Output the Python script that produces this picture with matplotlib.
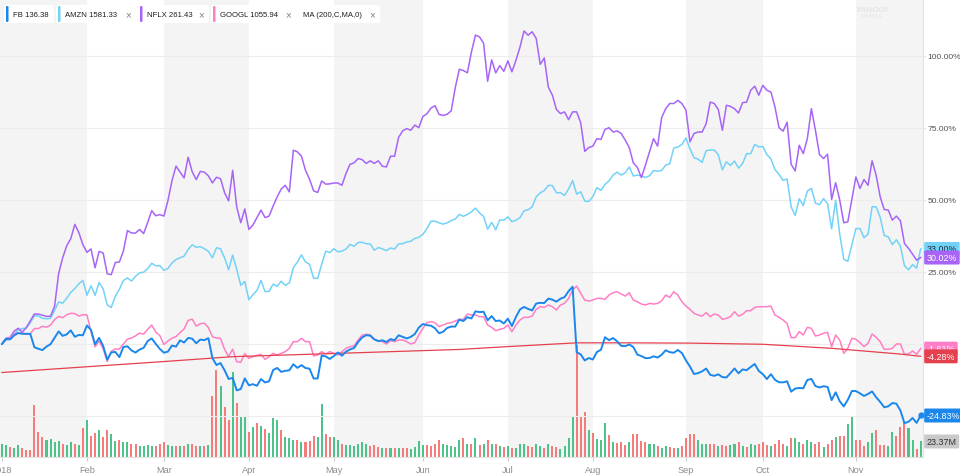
import numpy as np
import matplotlib.pyplot as plt
from matplotlib.patches import FancyBboxPatch
from matplotlib.transforms import blended_transform_factory

plt.rcParams['font.family'] = ['Liberation Sans', 'DejaVu Sans']

# trading days per month, Jan 2 2018 .. Nov 26 2018
month_labels = ["2018", "Feb", "Mar", "Apr", "May", "Jun", "Jul", "Aug", "Sep", "Oct", "Nov"]
month_days = [21, 19, 21, 21, 22, 21, 21, 23, 19, 23, 17]

# % change since Jan 2
fb = [0, 1.79, 1.60, 2.99, 3.78, 3.56, 3.54, 3.50, -1.13, -1.67, -2.11, -0.89, -0.07, 2.18, 4.37, 2.83, 3.34, 4.73, 2.51, 3.14, 3.02,
      6.43, 4.88, -0.09, 2.14, -0.68, -5.42, -2.93, -2.76, -4.56, -1.05, -0.80, -2.24, -2.98, -1.93, -1.34, 1.03, 1.93, 0.02, -1.71,
      -3.02, -2.65, -0.56, -0.90, 1.26, 0.51, 2.10, 1.84, 0.25, 1.53, 1.34, 2.02, -4.88, -7.31, -6.63, -9.11, -12.14, -11.77, -16.10, -15.65, -11.92,
      -14.35, -13.95, -14.51, -12.17, -13.35, -12.95, -9.03, -8.32, -9.67, -9.32, -9.14, -7.03, -8.30, -7.34, -8.35, -8.59, -11.98, -11.98, -4.00, -4.32, -5.19,
      -4.17, -2.95, -4.08, -2.65, -1.90, -1.38, 0.68, 2.27, 3.07, 2.88, 1.60, 0.98, 1.29, 0.69, 1.69, 1.31, 3.02, 2.49, 1.93, 2.45, 3.45, 5.71,
      6.93, 6.54, 6.35, 5.47, 3.73, 4.23, 5.58, 6.05, 6.06, 8.48, 7.95, 9.31, 8.86, 11.34, 11.07, 11.20, 8.23, 9.69, 7.95, 8.16, 7.11,
      8.79, 6.23, 9.39, 12.02, 12.86, 12.19, 11.64, 14.05, 14.28, 14.23, 15.75, 15.40, 14.70, 15.72, 16.26, 18.33, 19.89, -2.84, -3.60, -5.71, -4.87,
      -5.39, -2.78, -2.01, 2.35, 1.32, 2.07, 0.92, -0.64, -0.75, -0.17, -1.04, -3.70, -4.20, -4.92, -4.85, -4.29, -4.70, -3.73, -2.18, -2.84, -3.04, -2.08, -3.14,
      -5.66, -7.85, -10.41, -10.13, -9.50, -8.53, -10.70, -11.06, -10.53, -11.49, -11.64, -10.12, -8.49, -10.19, -8.82, -9.10, -7.98, -6.93, -9.35,
      -10.46, -12.18, -10.47, -12.44, -13.28, -13.32, -12.96, -16.56, -15.47, -15.26, -15.38, -12.48, -12.13, -14.61, -15.09, -14.68, -14.90, -19.50, -16.79, -19.87, -21.68, -19.40, -16.33,
      -16.35, -17.13, -18.05, -17.35, -16.48, -18.49, -20.10, -21.98, -21.64, -20.51, -20.71, -23.09, -27.49, -27.00, -25.69, -27.39, -24.83]

amzn = [0, 1.28, 1.73, 3.38, 4.87, 5.36, 5.49, 7.37, 9.77, 9.74, 8.91, 8.77, 8.88, 11.63, 14.60, 14.17, 15.89, 17.92, 19.23, 20.93, 22.03,
        16.90, 20.26, 16.90, 21.35, 19.16, 13.58, 12.67, 16.59, 18.97, 22.04, 22.94, 21.84, 23.49, 24.72, 24.92, 26.16, 28.00, 27.16, 27.20,
        25.60, 26.18, 28.14, 29.32, 29.94, 30.52, 32.79, 34.43, 33.57, 33.81, 33.08, 32.19, 29.93, 33.43, 33.04, 29.87, 25.78, 30.85, 25.91, 20.39, 21.73,
        15.39, 17.08, 18.63, 22.10, 18.19, 18.26, 20.79, 20.02, 21.82, 20.33, 21.24, 26.48, 28.50, 30.94, 28.47, 27.66, 22.80, 22.81, 27.67, 32.26, 31.72,
        33.07, 32.02, 32.22, 32.96, 34.58, 33.93, 35.24, 35.33, 34.81, 34.70, 32.56, 33.50, 33.03, 32.41, 33.34, 33.00, 34.72, 34.82, 35.42, 35.65, 36.66, 37.06,
        38.06, 40.06, 42.67, 42.62, 42.08, 41.63, 42.06, 42.87, 43.39, 44.98, 44.32, 44.98, 45.90, 47.19, 45.52, 44.29, 39.88, 42.23, 39.66, 43.10, 42.96,
        44.14, 42.47, 42.95, 43.87, 46.26, 46.60, 47.60, 51.10, 52.48, 53.28, 55.08, 55.00, 52.48, 52.54, 51.55, 53.85, 56.74, 52.06, 52.84, 49.64, 49.49,
        51.15, 54.28, 53.35, 55.40, 56.64, 58.66, 59.67, 58.65, 59.48, 61.45, 58.33, 58.66, 58.30, 57.84, 58.40, 60.21, 60.04, 60.25, 62.13, 62.56, 68.05, 68.41, 69.28,
        71.53, 67.77, 64.70, 64.18, 63.08, 67.13, 67.37, 67.36, 65.70, 60.47, 63.25, 62.02, 63.52, 61.06, 62.69, 66.07, 66.09, 69.30, 68.46,
        68.57, 65.79, 64.24, 60.59, 58.93, 56.81, 57.30, 47.62, 44.61, 50.43, 48.10, 53.07, 54.06, 48.92, 48.36, 50.49, 48.75, 39.97, 49.89, 38.17, 29.43, 28.71, 34.40,
        40.08, 40.08, 36.90, 38.17, 47.64, 47.60, 44.02, 37.67, 37.19, 34.48, 36.20, 34.01, 27.19, 25.78, 27.56, 26.33, 33.00]

nflx = [0, 1.98, 2.27, 4.44, 5.46, 4.10, 5.70, 8.04, 10.41, 10.38, 10.00, 9.58, 9.64, 13.18, 24.47, 29.95, 34.13, 36.57, 41.54, 38.66, 34.43,
        31.83, 33.00, 26.45, 32.15, 31.58, 24.39, 24.07, 28.29, 28.45, 32.29, 39.39, 38.52, 38.53, 39.77, 38.33, 42.20, 46.30, 44.53, 44.92,
        44.42, 49.72, 56.66, 61.75, 59.72, 57.66, 64.84, 59.80, 57.10, 59.92, 59.69, 58.38, 55.91, 57.90, 57.40, 52.54, 49.67, 60.3, 47.6, 42.12, 46.89,
        39.8, 41.3, 43.9, 46.5, 43.9, 44.4, 47.9, 51.1, 53.8, 55.1, 52.8, 67.3, 66.7, 65.2, 60.3, 57.2, 53.2, 52.6, 56.6, 55.5, 55.6,
        55.9, 55.9, 55.1, 59.2, 62.4, 62.9, 64.4, 64.0, 62.7, 63.6, 62.7, 63.6, 61.7, 61.5, 65.2, 65.2, 71.7, 74.0, 74.8, 74.2, 76.0, 75.1,
        79.0, 79.94, 81.92, 82.75, 79.74, 79.33, 79.77, 80.94, 88.96, 95.39, 94.95, 94.16, 101.41, 107.27, 106.62, 104.45, 91.22, 98.63, 94.15, 96.66, 94.67,
        98.3, 94.5, 98.5, 103.1, 108.7, 107.2, 108.4, 106.1, 97.1, 99.3, 89.2, 86.4, 81.4, 80.0, 80.6, 77.9, 80.6, 80.6, 76.8, 66.9, 68.2,
        68.7, 71.3, 71.0, 74.5, 75.1, 73.6, 74.0, 73.1, 70.8, 68.2, 62.9, 61.3, 57.8, 62.1, 66.7, 71.3, 68.7, 78.6, 81.7, 83.5, 83.5, 84.6, 83.5,
        81.2, 70.2, 73.1, 73.6, 73.6, 76.5, 84.0, 83.5, 81.4, 74.2, 82.9, 82.5, 81.7, 80.2, 83.8, 84.0, 88.1, 89.5, 86.4,
        89.8, 88.1, 87.5, 82.3, 75.1, 73.9, 77.0, 62.4, 60.1, 69.0, 66.1, 71.3, 81.7, 74.2, 65.8, 64.4, 65.9, 50.2, 56.0, 50.0, 42.1, 42.4, 50.2,
        58.0, 54.0, 57.1, 55.1, 63.6, 58.6, 51.1, 46.7, 46.5, 43.0, 44.4, 42.8, 34.9, 33.2, 31.2, 29.1, 30.02]

googl = [0, 1.71, 2.10, 3.45, 3.82, 3.69, 3.44, 3.62, 5.35, 5.36, 6.14, 5.85, 6.55, 8.47, 9.59, 9.14, 10.15, 10.65, 10.55, 9.71, 10.16,
         10.10, 4.29, -1.01, 1.05, -1.66, -6.10, -2.51, -1.74, -1.78, -0.05, 1.69, 2.08, 2.83, 3.77, 3.42, 5.11, 6.57, 4.13, 2.94,
         -0.17, 1.02, 2.01, 2.58, 3.90, 5.24, 8.17, 8.64, 6.22, 7.05, 7.21, 5.70, 2.50, 2.10, 1.94, -1.87, -4.35, -1.78, -6.17, -6.34, -3.36,
         -4.97, -4.39, -3.93, -3.58, -5.32, -4.39, -3.24, -3.82, -3.24, -2.66, -1.50, 0.81, 0.81, 1.97, 0.81, 0.81, -4.16, -3.82, -2.66, -3.47, -2.66,
         -3.24, -3.82, -2.66, -1.50, -0.92, -0.69, 1.39, 3.12, 3.35, 3.12, 1.62, 1.16, 0.81, 0.0, 1.16, 0.81, 1.39, 1.39, 0.81, 0.0, 0.46, 3.12,
         5.43, 7.40, 7.75, 7.40, 6.01, 6.59, 7.17, 7.40, 7.98, 8.55, 8.55, 10.40, 10.06, 10.06, 9.48, 9.48, 6.59, 5.78, 4.62, 5.09, 5.43,
         6.59, 4.28, 6.59, 8.32, 9.25, 9.25, 9.71, 12.02, 12.95, 12.72, 13.53, 12.95, 11.79, 13.53, 14.10, 15.84, 18.73, 20.12, 17.57, 15.26, 14.91,
         15.26, 15.84, 15.84, 15.49, 16.99, 17.80, 18.15, 17.34, 16.65, 17.80, 15.26, 14.68, 13.87, 13.53, 14.10, 13.87, 14.10, 15.03, 16.99, 16.18, 18.15, 16.99, 14.68,
         13.18, 12.02, 10.64, 10.06, 9.71, 10.87, 9.48, 10.40, 10.06, 8.55, 8.90, 9.48, 11.21, 9.71, 10.29, 11.56, 11.56, 12.72, 12.95,
         12.95, 12.95, 13.18, 10.06, 9.25, 8.32, 7.17, 2.20, 2.20, 4.28, 3.12, 5.78, 5.43, 2.77, 3.12, 3.70, 4.05, -0.92, 3.12, 1.39, -3.24, -1.50, 1.97,
         1.62, 0.46, -0.92, 0.23, 3.47, 2.31, 0.81, -1.85, -1.85, -1.50, 0.0, 0.0, -3.58, -3.47, -2.43, -3.58, -1.61]

# 200 day moving average of FB (% vs Jan 2), read at a few days
ma_day = [0, 21, 40, 57, 82, 104, 113, 125, 142, 155, 170, 188, 205, 222, 227]
ma_pct = [-9.9, -7.9, -6.1, -4.4, -3.3, -2.3, -1.9, -0.9, 0.4, 0.4, 0.3, -0.1, -1.5, -3.5, -4.28]

# FB volume, millions
fb_vol = [20, 18, 15, 14, 18, 13, 11, 11, 78, 37, 30, 25, 27, 22, 24, 20, 18, 22, 20, 18, 44,
          55, 32, 36, 40, 30, 40, 35, 24, 26, 22, 22, 20, 19, 17, 17, 18, 17, 17, 20,
          22, 18, 17, 17, 16, 16, 19, 19, 17, 17, 17, 18, 91, 131, 107, 75, 55, 128, 81, 61, 61,
          38, 45, 51, 46, 42, 36, 58, 55, 40, 30, 28, 26, 25, 22, 22, 24, 32, 30, 79, 35, 30,
          30, 25, 20, 18, 18, 17, 20, 22, 20, 16, 18, 15, 14, 14, 14, 14, 14, 14, 14, 12, 15, 24,
          18, 18, 16, 20, 25, 20, 18, 16, 15, 25, 28, 20, 20, 28, 18, 19, 25, 20, 20, 17, 15,
          17, 14, 14, 20, 20, 16, 15, 19, 16, 14, 20, 16, 15, 12, 16, 28, 60, 170, 61, 68, 41,
          36, 27, 25, 51, 33, 23, 21, 23, 18.5, 22, 35, 34, 24, 22, 19.5, 19, 16, 14, 16, 15, 14, 14, 16,
          28, 34, 35, 25, 20, 20, 20, 19, 16, 18, 16, 18, 20, 22, 16, 15, 20, 18, 20,
          22, 18, 16, 20, 25, 20, 16, 28, 28, 22, 20, 25, 22, 20, 22, 15, 20, 25, 30, 32, 32, 50, 61,
          26, 26, 17, 22, 36, 40, 18, 18, 17, 37, 32, 45, 52, 43, 26, 12, 23.37]

tickers = ["FB", "AMZN", "NFLX", "GOOGL"]
last_price = ["136.38", "1581.33", "261.43", "1055.94"]
ma_name = "MA (200,C,MA,0)"

c_fb = "#1b87ec"
c_amzn = "#72d2f8"
c_nflx = "#a764f7"
c_googl = "#ff7ec5"
c_ma = "#e5404e"
c_up = "#4cc38a"
c_down = "#f67c7c"

days = np.arange(len(fb))
starts = np.concatenate([[0], np.cumsum(month_days)[:-1]])

fig = plt.figure(figsize=(9.6, 4.77), dpi=100)
rect = [0, 19 / 477, 923 / 960, 458 / 477]
ax_vol = fig.add_axes(rect)
ax = fig.add_axes(rect)
ax.set_facecolor("none")

x_lo, x_hi = -0.49, 227.58
for a in (ax_vol, ax):
    a.set_xlim(x_lo, x_hi)

# alternating month bands
ends = list(starts[1:]) + [x_hi]
for i, (s, e) in enumerate(zip(starts, ends)):
    if i % 2 == 0:
        ax_vol.axvspan(s if i else x_lo, e, color="#f4f4f4", lw=0, zorder=0)

# volume bars, coloured by FB up / down day
chg = np.diff(np.array(fb), prepend=fb[0])
vcol = [c_up if c >= 0 else c_down for c in chg]
ax_vol.bar(days, fb_vol, width=0.5, color=vcol, zorder=2)
ax_vol.set_ylim(0, 688.7)
ax_vol.set_yticks([])
ax_vol.set_xticks([])
for s in ax_vol.spines.values():
    s.set_visible(False)

# lines
ax.plot(days, amzn, color=c_amzn, lw=1.1, zorder=3)
ax.plot(days, nflx, color=c_nflx, lw=1.1, zorder=3)
ax.plot(days, googl, color=c_googl, lw=1.1, zorder=3)
ax.plot(ma_day, ma_pct, color=c_ma, lw=0.9, zorder=3)
ax.plot(days, fb, color=c_fb, lw=1.4, zorder=4)
ax.plot(days[-1:], fb[-1:], "o", color=c_fb, ms=3.5, zorder=5, clip_on=False)

ax.set_ylim(-39.24, 119.79)
yt = [-25, 0, 25, 50, 75, 100]
ax.set_yticks(yt)
# the -25% label sits under the FB badge in the original, so it stays blank
ax.set_yticklabels(["" if v == -25 else f"{v:.2f}%" for v in yt])
ax.yaxis.tick_right()
ax.grid(axis="y", color="#ececec", lw=0.8, zorder=1)
ax.tick_params(axis="y", length=2, color="#e6e6e6", pad=1, labelsize=6.1, labelcolor="#555555")
ax.set_xticks(starts)
ax.set_xticklabels(month_labels)
ax.tick_params(axis="x", length=3, color="#cccccc", pad=3, labelsize=6.6, labelcolor="#8c8c8c")
for k in ("top", "left"):
    ax.spines[k].set_visible(False)
ax.spines["right"].set_color("#e2e2e2")
ax.spines["bottom"].set_color("#e2e2e2")

# value badges on the right
tr = blended_transform_factory(ax.transAxes, ax.transData)
badges = [
    (amzn[-1], c_amzn, "#1d2b3a"),
    (nflx[-1], c_nflx, "white"),
    (googl[-1], c_googl, "white"),
    (ma_pct[-1], c_ma, "white"),
    (fb[-1], c_fb, "white"),
]
for val, bg, fg in badges:
    ax.text(1.004, val, f"{val:.2f}%", transform=tr, ha="left", va="center", fontsize=6.4,
            color=fg, clip_on=False, zorder=10,
            bbox=dict(boxstyle="round,pad=0.28,rounding_size=0.15", fc=bg, ec="none"))
trv = blended_transform_factory(ax_vol.transAxes, ax_vol.transData)
ax_vol.text(1.004, fb_vol[-1], f"{fb_vol[-1]:.2f}M", transform=trv, ha="left", va="center",
            fontsize=6.4, color="#333333", clip_on=False, zorder=10,
            bbox=dict(boxstyle="round,pad=0.28,rounding_size=0.15", fc="#c9c9c9", ec="none"))

# legend chips along the top, in pixel space
ov = fig.add_axes([0, 0, 1, 1])
ov.set_xlim(0, 960)
ov.set_ylim(477, 0)
ov.axis("off")
chips = [
    (4, 50, c_fb, f"{tickers[0]} {last_price[0]}", False),
    (56, 80, c_amzn, f"{tickers[1]} {last_price[1]}", True),
    (138, 71, c_nflx, f"{tickers[2]} {last_price[2]}", True),
    (211, 85, c_googl, f"{tickers[3]} {last_price[3]}", True),
    (298, 82, None, ma_name, True),
]
for x0, w, col, label, closable in chips:
    ov.add_patch(FancyBboxPatch((x0, 6), w, 18, boxstyle="round,pad=0,rounding_size=2",
                                fc="white", ec="none", zorder=5))
    tx = x0 + 5
    if col:
        ov.add_patch(FancyBboxPatch((x0 + 2, 7), 2.5, 16, boxstyle="round,pad=0,rounding_size=1",
                                    fc=col, ec="none", zorder=6))
        tx = x0 + 9
    ov.text(tx, 15.5, label, fontsize=5.6, color="#1f1f1f", va="center", ha="left", zorder=7)
    if closable:
        ov.text(x0 + w - 8, 15.5, "\u00d7", fontsize=7, color="#808080", va="center", ha="center", zorder=7)

ov.text(872, 10, "YAHOO!", fontsize=6, color="#e4e4e4", ha="center", va="center", fontstyle="italic", fontweight="bold")
ov.text(872, 17, "FINANCE", fontsize=3.5, color="#e4e4e4", ha="center", va="center")

fig.savefig("out.png", dpi=100)
